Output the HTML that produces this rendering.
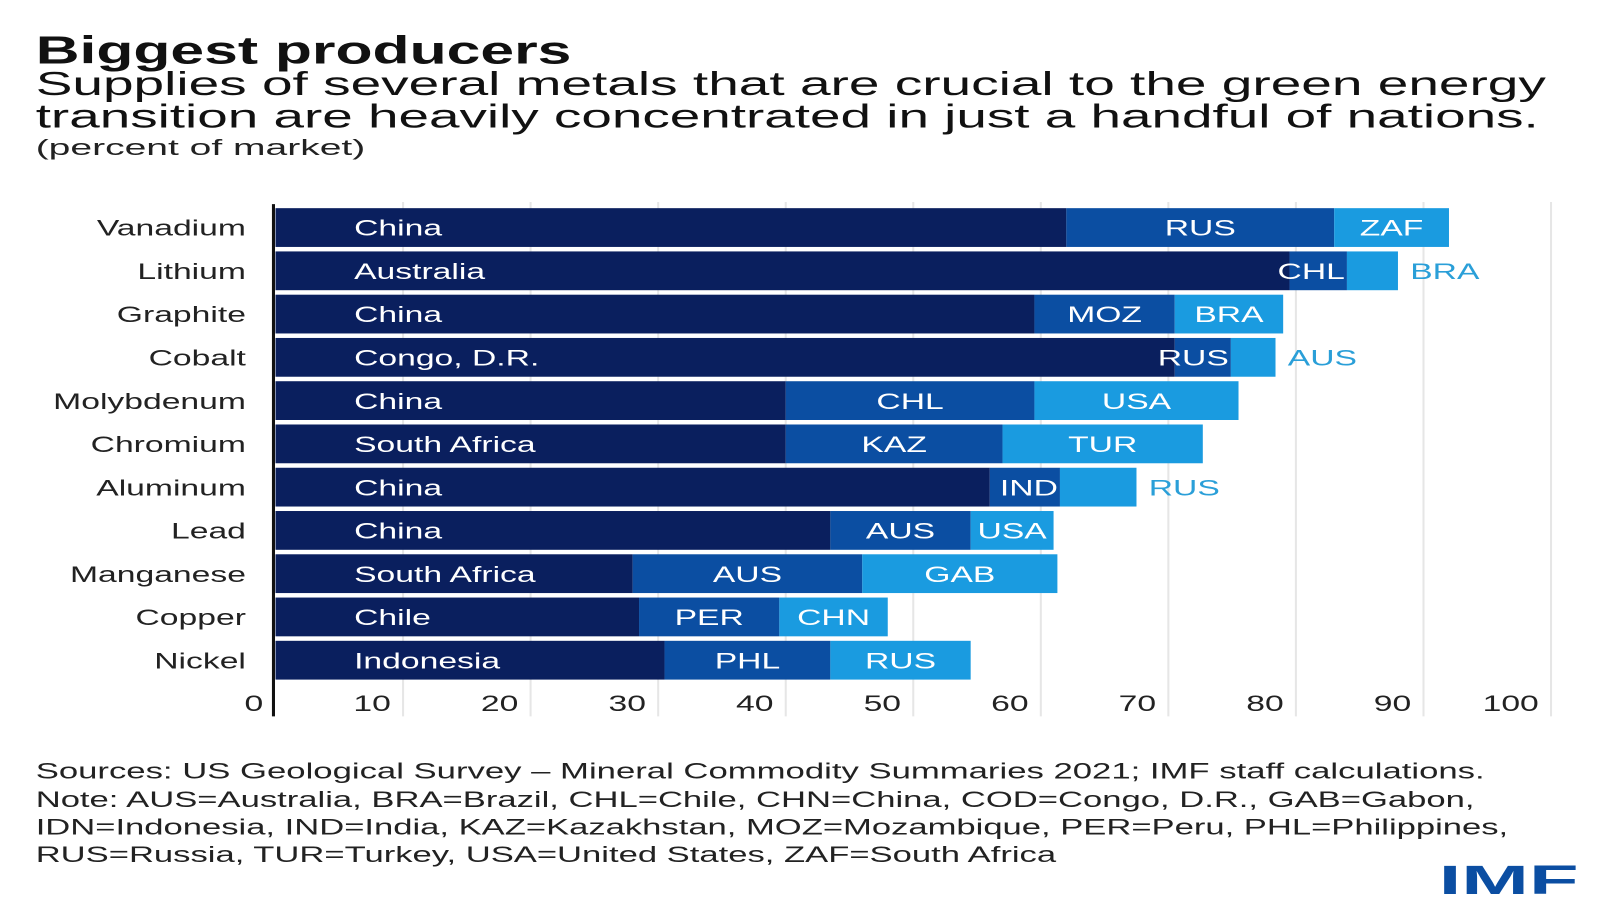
<!DOCTYPE html>
<html><head><meta charset="utf-8"><style>
html,body{margin:0;padding:0;background:#fff;}
svg{display:block;font-family:"Liberation Sans",sans-serif;}
</style></head><body>
<svg id="chart" width="1600" height="900" viewBox="0 0 1568 882" preserveAspectRatio="none" xmlns="http://www.w3.org/2000/svg">
<text x="35" y="62" font-size="38" font-weight="bold" fill="#111" textLength="525" lengthAdjust="spacingAndGlyphs">Biggest producers</text>
<text x="35" y="93" font-size="33" fill="#111" textLength="1480" lengthAdjust="spacingAndGlyphs">Supplies of several metals  that are crucial to the green energy</text>
<text x="35" y="125" font-size="33" fill="#111" textLength="1473" lengthAdjust="spacingAndGlyphs">transition are heavily concentrated in just a handful of nations.</text>
<text x="35" y="152" font-size="22" fill="#222" textLength="323" lengthAdjust="spacingAndGlyphs">(percent of market)</text>
<g id="grid"></g><g id="bars"></g><g id="xaxis"></g>
<text x="35" y="763" font-size="22" fill="#222" textLength="1420" lengthAdjust="spacingAndGlyphs">Sources: US Geological Survey – Mineral Commodity Summaries 2021; IMF staff calculations.</text>
<text x="35" y="791" font-size="22" fill="#222" textLength="1410" lengthAdjust="spacingAndGlyphs">Note: AUS=Australia, BRA=Brazil, CHL=Chile, CHN=China, COD=Congo, D.R., GAB=Gabon,</text>
<text x="35" y="818" font-size="22" fill="#222" textLength="1443" lengthAdjust="spacingAndGlyphs">IDN=Indonesia, IND=India, KAZ=Kazakhstan, MOZ=Mozambique, PER=Peru, PHL=Philippines,</text>
<text x="35" y="845" font-size="22" fill="#222" textLength="1000" lengthAdjust="spacingAndGlyphs">RUS=Russia, TUR=Turkey, USA=United States, ZAF=South Africa</text>
<text x="1410" y="876" font-size="40" font-weight="bold" fill="#0b4ea2" textLength="137" lengthAdjust="spacingAndGlyphs">IMF</text>
</svg>
<script>
const categories=["Vanadium","Lithium","Graphite","Cobalt","Molybdenum","Chromium","Aluminum","Lead","Manganese","Copper","Nickel"];
const firstNames=["China","Australia","China","Congo, D.R.","China","South Africa","China","China","South Africa","Chile","Indonesia"];
const secondNames=["RUS","CHL","MOZ","RUS","CHL","KAZ","IND","AUS","AUS","PER","PHL"];
const thirdNames=["ZAF","BRA","BRA","AUS","USA","TUR","RUS","USA","GAB","CHN","RUS"];
const firstValues=[62,79.5,59.5,70.5,40,40,56,43.5,28,28.5,30.5];
const secondValues=[21,4.5,11,4.4,19.5,17,5.5,11,18,11,13];
const thirdValues=[9,4,8.5,3.5,16,15.7,6,6.5,15.3,8.5,11];
const tickValues=[0,10,20,30,40,50,60,70,80,90,100];

const NS="http://www.w3.org/2000/svg";
const x0=270,pxPer=12.5;
const xs=v=>x0+v*pxPer;
const rowTop=204,rowStep=42.4,barH=38;
const ys=i=>rowTop+i*rowStep;
const cols=["#0a1f5e","#0b4ea2","#1a9be0"];
const SX=1.5;
function mk(tag,attrs,parent){const e=document.createElementNS(NS,tag);for(const k in attrs)e.setAttribute(k,attrs[k]);parent.appendChild(e);return e;}
function txt(x,y,s,anchor,fill,parent){
  const e=mk('text',{x:0,y:0,'font-size':22,fill:fill,'text-anchor':anchor,transform:'translate('+x+','+y+') scale('+SX+',1)'},parent);
  e.textContent=s;return e;
}
const grid=document.getElementById('grid'),bars=document.getElementById('bars'),xaxis=document.getElementById('xaxis');
tickValues.forEach((t,i)=>{
  if(t>0){const l=mk('line',{x1:xs(t),x2:xs(t),y1:198,y2:702,stroke:'#e6e6e6','stroke-width':2},grid);
  
  }
  const tx=txt(xs(t)-12,697,String(t),'end','#222',xaxis);
  
  
});
categories.forEach((c,i)=>{
  const y=ys(i),cy=y+barH/2+8;
  const lab=txt(241,cy,c,'end','#222',bars);
  
  
  const vals=[firstValues[i],secondValues[i],thirdValues[i]];
  const names=[firstNames[i],secondNames[i],thirdNames[i]];
  let cum=0;
  vals.forEach((v,k)=>{
    const a=xs(cum),b=xs(cum+v);cum+=v;
    const r=mk('rect',{x:a,y:y,width:b-a,height:barH,fill:cols[k]},bars);
    
    
    let t;
    const w=b-a;
    if(k===0){t=txt(x0+77,cy,names[k],'start','#fff',bars);}
    else if(w>=80){t=txt((a+b)/2,cy,names[k],'middle','#fff',bars);}
    else if(k===1){t=txt(b-2,cy,names[k],'end','#fff',bars);}
    else {t=txt(b+12,cy,names[k],'start','#2a9fd8',bars);}
    
    
  });
});
const ax=mk('line',{x1:268,x2:268,y1:200,y2:702,stroke:'#111','stroke-width':3},xaxis);


</script>
</body></html>
